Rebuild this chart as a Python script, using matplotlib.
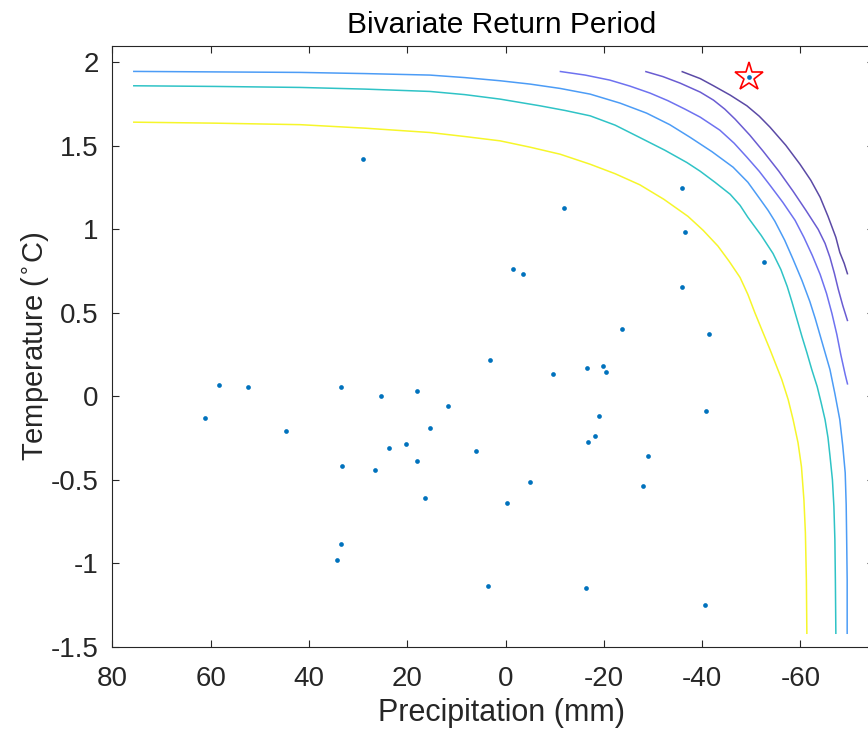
"""Bivariate return period: observed precip/temperature anomalies with joint
return-period isolines (traced from the reference figure)."""
import matplotlib
matplotlib.use("Agg")
import matplotlib.pyplot as plt

plt.rcParams["font.family"] = ["Liberation Sans", "DejaVu Sans"]
plt.rcParams["axes.unicode_minus"] = False

# observed anomalies (blue dots)
obs_precip = [29.0, -11.9, -35.9, -36.5, -52.5, -1.5, -3.5, -35.9, -23.6, -41.3,
              3.1, 61.2, 58.3, 52.4, 33.4, 44.7, 25.3, 18.1, 11.8, 15.4,
              20.3, 23.7, 18.1, 33.3, 26.6, 6.0, 16.3, 33.4, 34.3, 3.6,
              -9.6, -16.6, -19.9, -20.5, -40.7, -19.0, -18.1, -16.8, -28.9, -4.9,
              -28.0, -0.2, -16.4, -40.5]
obs_temp = [1.42, 1.125, 1.245, 0.985, 0.805, 0.76, 0.735, 0.655, 0.405, 0.375,
            0.215, -0.13, 0.07, 0.055, 0.055, -0.205, 0.0, 0.03, -0.06, -0.19,
            -0.285, -0.31, -0.39, -0.42, -0.44, -0.33, -0.61, -0.885, -0.98, -1.135,
            0.135, 0.17, 0.18, 0.145, -0.09, -0.12, -0.24, -0.275, -0.36, -0.515,
            -0.54, -0.64, -1.15, -1.25]

# highlighted event (red star)
event_precip = -49.6
event_temp = 1.912

# return-period isolines, innermost (yellow) to outermost (dark purple)
iso1_x = [75.8, 59.1, 41.8, 28.6, 15.4, 8.3, 1.1, -5.0, -11.1, -17.2, -22.3,
          -27.3, -32.2, -37.1, -40.2, -43.2, -45.5, -47.7, -49.3, -50.7, -52.2,
          -53.8, -56.2, -57.5, -58.5, -59.5, -60.2, -60.7, -61.0, -61.2, -61.3]
iso1_y = [1.642, 1.636, 1.627, 1.606, 1.580, 1.556, 1.530, 1.492, 1.450, 1.390, 1.333,
          1.267, 1.180, 1.078, 0.994, 0.900, 0.808, 0.712, 0.610, 0.502, 0.394,
          0.280, 0.100, -0.020, -0.140, -0.278, -0.422, -0.620, -0.818, -1.100, -1.424]

iso2_x = [75.8, 59.1, 41.8, 28.6, 15.4, 8.3, 1.1, -7.0, -12.1, -17.2, -22.3, -27.3,
          -32.4, -36.9, -39.6, -42.6, -45.7, -47.7, -49.3, -52.0, -54.4, -56.0, -57.3,
          -58.3, -59.3, -60.3, -61.3, -62.3, -63.4, -64.2, -65.0, -65.6, -66.0, -66.5,
          -66.8, -67.0, -67.1, -67.2]
iso2_y = [1.860, 1.856, 1.850, 1.840, 1.826, 1.807, 1.780, 1.740, 1.712, 1.680, 1.624,
          1.550, 1.474, 1.400, 1.348, 1.282, 1.210, 1.144, 1.072, 0.964, 0.856, 0.760,
          0.658, 0.562, 0.460, 0.358, 0.262, 0.160, 0.058, -0.038, -0.140, -0.248,
          -0.356, -0.500, -0.660, -0.860, -1.100, -1.424]

iso3_x = [75.8, 59.1, 41.8, 28.6, 15.4, 8.3, 1.1, -5.0, -11.1, -17.2, -23.3, -28.7,
          -33.4, -37.5, -42.0, -46.3, -49.3, -51.8, -53.4, -54.8, -56.8, -58.5, -60.3,
          -61.9, -63.0, -64.0, -65.0, -66.0, -67.0, -68.0, -68.6, -69.1, -69.3, -69.4,
          -69.5, -69.5]
iso3_y = [1.946, 1.943, 1.940, 1.933, 1.924, 1.909, 1.890, 1.870, 1.844, 1.810, 1.756,
          1.696, 1.627, 1.552, 1.465, 1.372, 1.282, 1.180, 1.114, 1.048, 0.934, 0.820,
          0.694, 0.568, 0.466, 0.364, 0.262, 0.160, 0.016, -0.140, -0.296, -0.458,
          -0.650, -0.860, -1.100, -1.424]

iso4_x = [-11.0, -16.2, -21.2, -25.3, -29.4, -33.0, -36.5, -39.6, -43.6, -46.5, -49.1,
          -51.6, -53.8, -56.4, -58.9, -60.7, -62.4, -64.0, -65.3, -66.4, -67.4, -68.2,
          -69.1, -69.6]
iso4_y = [1.946, 1.924, 1.894, 1.858, 1.816, 1.771, 1.720, 1.672, 1.594, 1.516, 1.432,
          1.348, 1.264, 1.162, 1.054, 0.952, 0.844, 0.730, 0.616, 0.496, 0.370, 0.250,
          0.130, 0.070]

iso5_x = [-28.4, -32.0, -35.5, -39.6, -42.3, -44.6, -46.7, -49.7, -52.4, -55.6, -58.5,
          -61.1, -63.6, -65.0, -66.0, -66.9, -67.7, -68.6, -69.6]
iso5_y = [1.946, 1.915, 1.876, 1.822, 1.774, 1.720, 1.660, 1.564, 1.468, 1.348, 1.228,
          1.114, 1.000, 0.916, 0.832, 0.736, 0.640, 0.544, 0.450]

iso6_x = [-35.8, -39.6, -42.3, -45.7, -49.1, -51.6, -53.8, -57.0, -59.9, -62.1, -64.0,
          -65.6, -67.2, -68.0, -68.9, -69.6]
iso6_y = [1.946, 1.903, 1.860, 1.804, 1.740, 1.678, 1.612, 1.504, 1.390, 1.294, 1.192,
          1.078, 0.952, 0.862, 0.796, 0.730]

iso_colors = ["#F6F62A", "#2FC3C6", "#4C9CF6", "#6E72F0", "#6A5CD2", "#5B4AA6"]

x_ticks = [80, 60, 40, 20, 0, -20, -40, -60]
y_ticks = [-1.5, -1, -0.5, 0, 0.5, 1, 1.5, 2]
y_tick_labels = ["-1.5", "-1", "-0.5", "0", "0.5", "1", "1.5", "2"]

INK = "#262626"

fig = plt.figure(figsize=(8.68, 7.34), dpi=100)
# axes runs a bit past the right edge, as in the reference (cropped)
ax = fig.add_axes([112.4 / 868, 1 - 646.7 / 734, (874.2 - 112.4) / 868, (646.7 - 45.7) / 734])

isolines = [(iso1_x, iso1_y), (iso2_x, iso2_y), (iso3_x, iso3_y),
            (iso4_x, iso4_y), (iso5_x, iso5_y), (iso6_x, iso6_y)]
for (xs, ys), c in zip(isolines, iso_colors):
    ax.plot(xs, ys, color=c, lw=1.1, solid_capstyle="butt", solid_joinstyle="round")

ax.plot(obs_precip, obs_temp, "o", ms=3.4, color="#0072BD", mec="none")
ax.plot([event_precip], [event_temp], "o", ms=3.4, color="#0072BD", mec="none")
ax.plot([event_precip], [event_temp], marker="*", ms=21, mfc="none", mec="red", mew=1.2)

ax.set_xlim(80, -75)
ax.set_ylim(-1.5, 2.1)
ax.set_xticks(x_ticks)
ax.set_xticklabels([str(v) for v in x_ticks])
ax.set_yticks(y_ticks)
ax.set_yticklabels(y_tick_labels)

ax.tick_params(direction="in", top=True, right=True, length=5.2, width=0.8,
               color=INK, labelcolor=INK, labelsize=20)
ax.tick_params(axis="x", pad=14)
ax.tick_params(axis="y", pad=10)
for sp in ax.spines.values():
    sp.set_color(INK)
    sp.set_linewidth(0.8)

ax.set_title("Bivariate Return Period", fontsize=21.5, color="black", pad=9, x=0.511)
ax.set_xlabel("Precipitation (mm)", fontsize=22, color=INK)
ax.xaxis.set_label_coords(0.511, -0.085)
ax.set_ylabel("Temperature ($^{\\circ}$C)", fontsize=21, color=INK, labelpad=0)

fig.savefig("out.png", dpi=100)
